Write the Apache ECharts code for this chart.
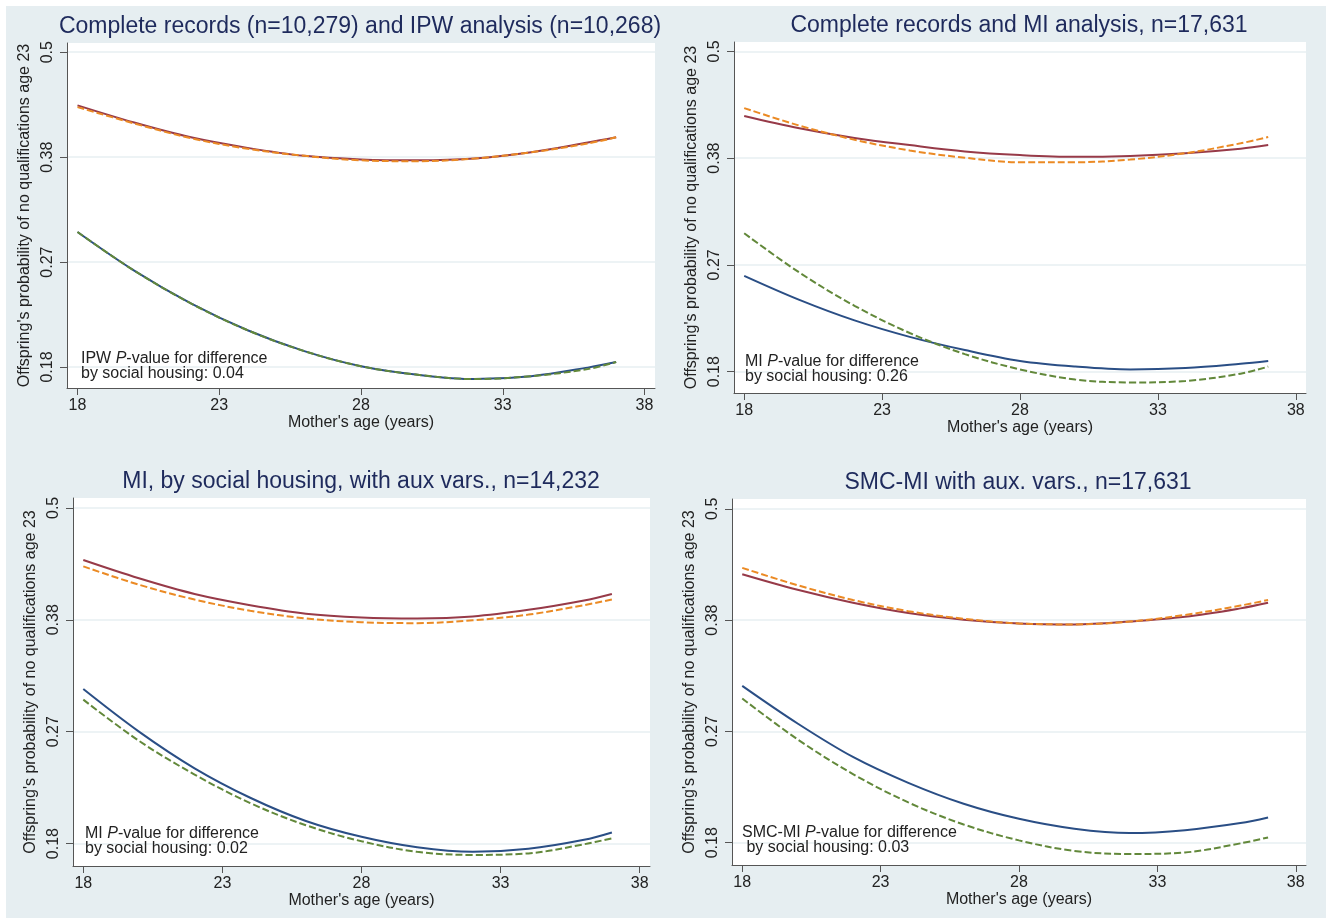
<!DOCTYPE html>
<html>
<head>
<meta charset="utf-8">
<title>Mother's age and offspring's probability of no qualifications</title>
<script src="https://cdn.jsdelivr.net/npm/echarts@6/dist/echarts.min.js"></script>
<style>
	html, body { margin: 0; padding: 0; background: #fff; }
	#chart { width: 1326px; height: 918px; }
</style>
</head>
<body>
<div id="chart"></div>
<script>
	"use strict";

	// ______________ DATA (probabilities)
	const ages = [18, 20, 22, 24, 26, 28, 30, 32, 34, 36, 37];
	const xTicks = [18, 23, 28, 33, 38];
	const yTickLogits = [-1.5, -1, -0.5, 0];
	const yTickLabels = ['0.18', '0.27', '0.38', '0.5'];

	const titles = [
		'Complete records (n=10,279) and IPW analysis (n=10,268)',
		'Complete records and MI analysis, n=17,631',
		'MI, by social housing, with aux vars., n=14,232',
		'SMC-MI with aux. vars., n=17,631'
	];
	const notes = [
		'IPW {it|P}-value for difference\nby social housing: 0.04',
		'MI {it|P}-value for difference\nby social housing: 0.26',
		'MI {it|P}-value for difference\nby social housing: 0.02',
		'SMC-MI {it|P}-value for difference\n by social housing: 0.03'
	];

	// panel 1 - IPW (solid) vs complete records (dashed)
	const ipwUpper = [0.437, 0.417, 0.400, 0.388, 0.379, 0.375, 0.374, 0.376, 0.383, 0.394, 0.400];
	const cr1Upper = [0.435, 0.416, 0.399, 0.387, 0.379, 0.374, 0.373, 0.376, 0.383, 0.393, 0.400];
	const ipwLower = [0.298, 0.261, 0.232, 0.210, 0.194, 0.183, 0.177, 0.174, 0.176, 0.182, 0.186];
	const cr1Lower = [0.298, 0.261, 0.232, 0.210, 0.194, 0.183, 0.177, 0.174, 0.176, 0.181, 0.186];

	// panel 2 - MI (solid) vs complete records (dashed)
	const miUpper = [0.425, 0.411, 0.400, 0.392, 0.385, 0.381, 0.379, 0.380, 0.383, 0.388, 0.392];
	const cr2Upper = [0.434, 0.414, 0.398, 0.386, 0.378, 0.373, 0.373, 0.376, 0.383, 0.394, 0.401];
	const miLower = [0.259, 0.238, 0.221, 0.208, 0.198, 0.190, 0.186, 0.184, 0.185, 0.188, 0.190];
	const cr2Lower = [0.299, 0.262, 0.233, 0.211, 0.195, 0.184, 0.177, 0.175, 0.176, 0.181, 0.186];

	// panel 3 - MI by social housing with aux vars (solid) vs complete records (dashed)
	const miAuxUpper = [0.442, 0.422, 0.405, 0.393, 0.384, 0.380, 0.379, 0.381, 0.388, 0.398, 0.405];
	const cr3Upper = [0.435, 0.415, 0.399, 0.387, 0.379, 0.375, 0.374, 0.377, 0.383, 0.393, 0.399];
	const miAuxLower = [0.308, 0.269, 0.238, 0.215, 0.198, 0.187, 0.180, 0.177, 0.179, 0.185, 0.190];
	const cr3Lower = [0.298, 0.261, 0.233, 0.211, 0.195, 0.184, 0.177, 0.175, 0.176, 0.182, 0.186];

	// panel 4 - SMC-MI with aux vars (solid) vs complete records (dashed)
	const smcUpper = [0.427, 0.410, 0.396, 0.385, 0.378, 0.374, 0.373, 0.376, 0.381, 0.390, 0.396];
	const cr4Upper = [0.434, 0.415, 0.399, 0.387, 0.379, 0.374, 0.373, 0.376, 0.383, 0.393, 0.399];
	const smcLower = [0.311, 0.276, 0.247, 0.226, 0.210, 0.199, 0.192, 0.189, 0.191, 0.196, 0.200];
	const cr4Lower = [0.299, 0.262, 0.233, 0.211, 0.195, 0.184, 0.177, 0.175, 0.176, 0.182, 0.186];

	const panelSeries = [
		[ipwUpper, cr1Upper, ipwLower, cr1Lower],
		[miUpper, cr2Upper, miLower, cr2Lower],
		[miAuxUpper, cr3Upper, miAuxLower, cr3Lower],
		[smcUpper, cr4Upper, smcLower, cr4Lower]
	];

	// ______________ LAYOUT / STYLE
	const FONT = '"Liberation Sans", Arial, Helvetica, sans-serif';
	const grids = [
		{ left: 67, top: 43, width: 588, height: 345 },
		{ left: 734, top: 42, width: 572, height: 351 },
		{ left: 73, top: 498, width: 577, height: 368 },
		{ left: 732, top: 499, width: 574, height: 366 }
	];
	const titlePos = [[360, 27], [1019, 26], [361, 482], [1018, 483]];
	const notePos = [[81, 351], [745, 354], [85, 826], [742, 825]];
	const lineStyles = [
		{ color: '#973a48', type: 'solid' },
		{ color: '#eb8a24', type: [7, 3] },
		{ color: '#2a4e85', type: 'solid' },
		{ color: '#62883a', type: [7, 3] }
	];

	function logit(p) {
		return Math.log(p / (1 - p));
	}

	const xAxes = [], yAxes = [], series = [], graphics = [];

	// white border strips round the light blue graph region
	graphics.push({ type: 'rect', shape: { x: 0, y: 0, width: 1326, height: 6 }, style: { fill: '#fff' } });
	graphics.push({ type: 'rect', shape: { x: 0, y: 0, width: 6, height: 918 }, style: { fill: '#fff' } });

	grids.forEach(function(g, k) {
		xAxes.push({
			type: 'value',
			gridIndex: k,
			min: 17.63,
			max: 38.37,
			name: "Mother's age (years)",
			nameLocation: 'middle',
			nameGap: 27,
			nameTextStyle: { fontFamily: FONT, fontSize: 16, color: '#222' },
			axisLine: { show: true, onZero: false, lineStyle: { color: '#555', width: 1 } },
			axisTick: { show: true, length: 7, customValues: xTicks, lineStyle: { color: '#555' } },
			axisLabel: { customValues: xTicks, margin: 10, fontFamily: FONT, fontSize: 16, color: '#222' },
			splitLine: { show: false }
		});
		yAxes.push({
			type: 'value',
			gridIndex: k,
			min: -1.6,
			max: 0.044,
			name: "Offspring's probability of no qualifications age 23",
			nameLocation: 'middle',
			nameRotate: 90,
			nameGap: 34,
			nameTextStyle: { fontFamily: FONT, fontSize: 16, color: '#222' },
			axisLine: { show: true, onZero: false, lineStyle: { color: '#555', width: 1 } },
			axisTick: { show: true, length: 7, customValues: yTickLogits, lineStyle: { color: '#555' } },
			axisLabel: {
				customValues: yTickLogits,
				rotate: 90,
				margin: 11,
				fontFamily: FONT,
				fontSize: 16,
				color: '#222',
				formatter: function(v) {
					const i = yTickLogits.indexOf(v);
					return i >= 0 ? yTickLabels[i] : '';
				}
			},
			splitLine: { show: true, lineStyle: { color: '#edf3f5', width: 2 } }
		});

		panelSeries[k].forEach(function(vals, j) {
			series.push({
				type: 'line',
				xAxisIndex: k,
				yAxisIndex: k,
				data: ages.map(function(a, i) { return [a, logit(vals[i])]; }),
				showSymbol: false,
				smooth: 0.35,
				silent: true,
				lineStyle: { color: lineStyles[j].color, type: lineStyles[j].type, width: 2 },
				z: 3 + j
			});
		});

		graphics.push({
			type: 'text',
			x: titlePos[k][0],
			y: titlePos[k][1],
			style: {
				text: titles[k],
				align: 'center',
				verticalAlign: 'middle',
				fontFamily: FONT,
				fontSize: 23,
				fill: '#1e2a5c'
			}
		});
		graphics.push({
			type: 'text',
			x: notePos[k][0],
			y: notePos[k][1],
			z: 10,
			style: {
				text: notes[k],
				align: 'left',
				verticalAlign: 'top',
				fontFamily: FONT,
				fontSize: 16,
				lineHeight: 15,
				fill: '#222',
				rich: {
					it: { fontStyle: 'italic', fontFamily: FONT, fontSize: 16, lineHeight: 15, fill: '#222' }
				}
			}
		});
	});

	const chart = echarts.init(document.getElementById('chart'), null, { renderer: 'canvas' });
	chart.setOption({
		backgroundColor: '#e6eef1',
		animation: false,
		grid: grids.map(function(g) {
			return Object.assign({ show: true, backgroundColor: '#fff', borderWidth: 0, containLabel: false }, g);
		}),
		xAxis: xAxes,
		yAxis: yAxes,
		series: series,
		graphic: graphics
	});
</script>
</body>
</html>
